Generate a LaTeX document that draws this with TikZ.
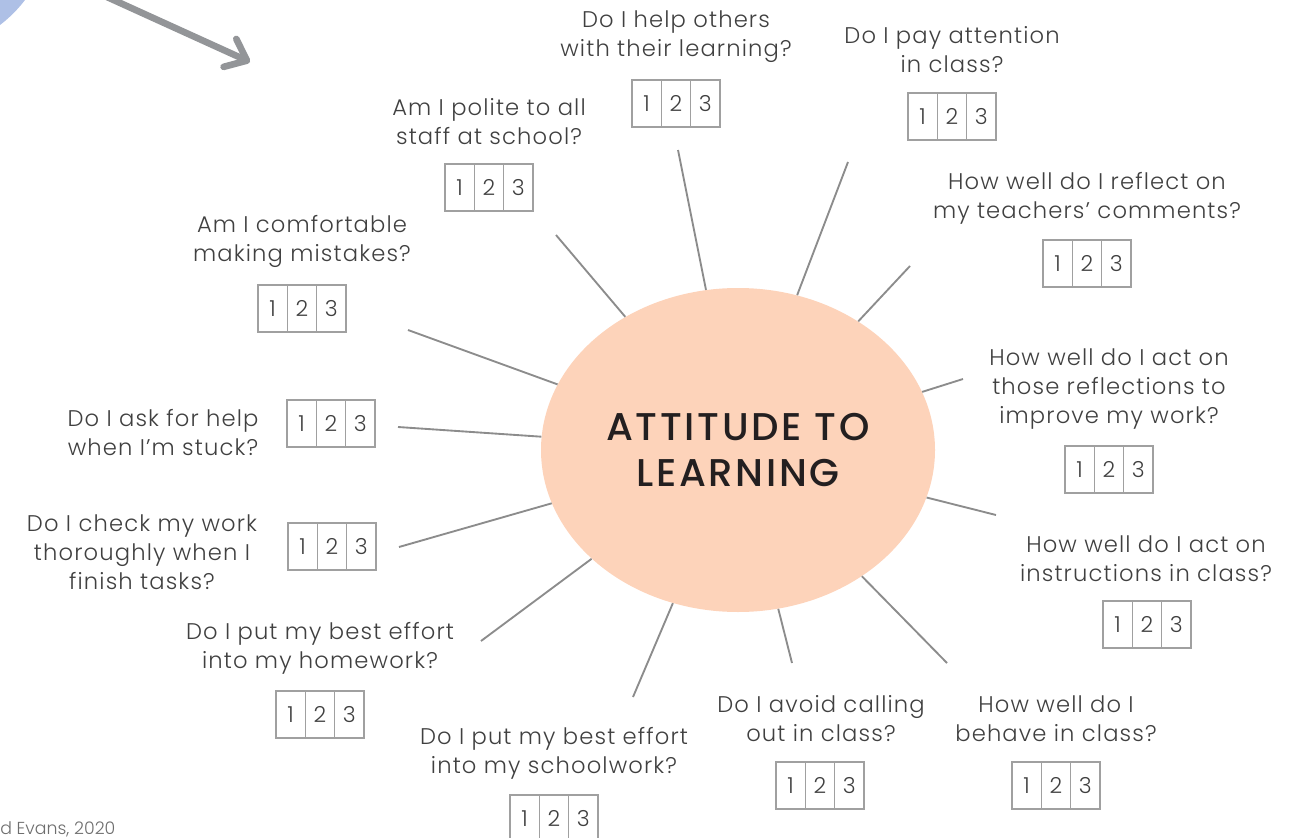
\documentclass[tikz,border=0pt]{standalone}
\usepackage{fontspec}
\setmainfont{Poppins}[UprightFont=* Light, BoldFont=* Medium]
\usetikzlibrary{shapes.geometric,arrows.meta}
\definecolor{peach}{RGB}{253,211,186}
\definecolor{inkgray}{RGB}{64,64,64}
\definecolor{spokegray}{RGB}{140,140,140}
\definecolor{boxgray}{RGB}{160,160,160}
\definecolor{arrowgray}{RGB}{147,149,152}
\definecolor{cornerblue}{RGB}{174,192,230}
\definecolor{titleink}{RGB}{35,31,32}
\definecolor{creditgray}{RGB}{110,110,110}

\tikzset{
  question/.style={align=center, text=inkgray, font=\fontsize{17}{21.75}\selectfont\addfontfeature{LetterSpace=5}, inner sep=0pt, yshift=-1.5pt},
  cell/.style={draw=boxgray, line width=1.1pt, minimum width=22pt, minimum height=35.25pt, inner sep=0pt, text=inkgray, font=\fontsize{16.5}{18}\selectfont},
  spoke/.style={draw=spokegray, line width=1.4pt},
  core/.style={ellipse, fill=peach, minimum width=295.5pt, minimum height=243pt, inner sep=0pt, align=center, text=titleink, font=\bfseries\fontsize{29}{35}\selectfont\addfontfeature{LetterSpace=7}},
  pointer/.style={draw=arrowgray, line width=5pt, line cap=round, -{Straight Barb[length=14pt,width=23pt,round]}},
  scorebox/.pic={
    \node[cell] (-1) at (-29.33,0) {1};
    \node[cell] (-2) at (0,0) {2};
    \node[cell] (-3) at (29.33,0) {3};
  },
}

\begin{document}
\begin{tikzpicture}[x=0.75pt,y=0.75pt,yscale=-1,xscale=1]
\useasboundingbox (0,0) rectangle (1313,838);
\clip (0,0) rectangle (1313,838);

\fill[cornerblue] (-80,-80) circle [radius=132];
\coordinate (tail) at (107,-3);
\coordinate (head) at (250,62);
\draw[pointer] (tail) -- (head);

\node[core] (core) at (738,450) {ATTITUDE TO\\LEARNING};

% questions
\node[question] (q1) at (676,34.5) {Do I help others\\with their learning?};
\pic (b1) at (676,103.5) {scorebox};
\node[question] (q2) at (952,48) {Do I pay attention\\in class?};
\pic (b2) at (952,116.5) {scorebox};
\node[question] (q3) at (489,119.5) {Am I polite to all\\staff at school?};
\pic (b3) at (489,187.5) {scorebox};
\node[question] (q4) at (1087,196) {How well do I reflect on\\my teachers’ comments?};
\pic (b4) at (1087,263.5) {scorebox};
\node[question] (q5) at (302,239) {Am I comfortable\\making mistakes?};
\pic (b5) at (302,308.5) {scorebox};
\node[question] (q6) at (1109,387) {How well do I act on\\those reflections to\\improve my work?};
\pic (b6) at (1109,469.5) {scorebox};
\node[question] (q7) at (163,430.5) {Do I ask for help\\when I’m stuck?};
\pic (b7) at (331,423.5) {scorebox};
\node[question] (q8) at (142,550) {Do I check my work\\thoroughly when I\\finish tasks?};
\pic (b8) at (332,546.5) {scorebox};
\node[question] (q9) at (1146,556.5) {How well do I act on\\instructions in class?};
\pic (b9) at (1147,624.5) {scorebox};
\node[question] (q10) at (320,646.5) {Do I put my best effort\\into my homework?};
\pic (b10) at (320,714.5) {scorebox};
\node[question] (q11) at (821,716.5) {Do I avoid calling\\out in class?};
\pic (b11) at (820,785.5) {scorebox};
\node[question] (q12) at (1056,716.5) {How well do I\\behave in class?};
\pic (b12) at (1056,785.5) {scorebox};
\node[question] (q13) at (554,751.5) {Do I put my best effort\\into my schoolwork?};
\pic (b13) at (554,818.5) {scorebox};

% spokes
\coordinate (s1) at (678,150);
\coordinate (s2) at (848,162);
\coordinate (s3) at (556,235);
\coordinate (s4) at (910,266);
\coordinate (s5) at (408,330);
\coordinate (s6) at (963,379);
\coordinate (s7) at (398,427);
\coordinate (s8) at (399,547);
\coordinate (s9) at (996,515);
\coordinate (s10) at (481,641);
\coordinate (s11) at (792,663);
\coordinate (s12) at (947,663);
\coordinate (s13) at (633,697);
\draw[spoke] (s1) -- (core);
\draw[spoke] (s2) -- (core);
\draw[spoke] (s3) -- (core);
\draw[spoke] (s4) -- (core);
\draw[spoke] (s5) -- (core);
\draw[spoke] (s6) -- (core);
\draw[spoke] (s7) -- (core);
\draw[spoke] (s8) -- (core);
\draw[spoke] (s9) -- (core);
\draw[spoke] (s10) -- (core);
\draw[spoke] (s11) -- (core);
\draw[spoke] (s12) -- (core);
\draw[spoke] (s13) -- (core);

\node[anchor=base west, text=creditgray, font=\fontsize{13}{15}\selectfont, inner sep=0pt] (credit) at (0,834) {d Evans, 2020};

\end{tikzpicture}
\end{document}
